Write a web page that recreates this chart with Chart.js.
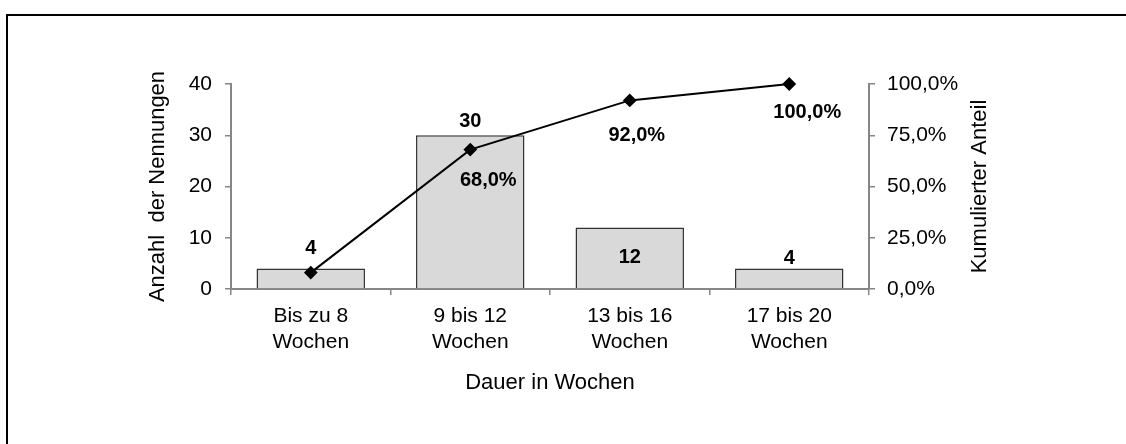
<!DOCTYPE html>
<html>
<head>
<meta charset="utf-8">
<script src="https://cdn.jsdelivr.net/npm/chart.js@4/dist/chart.umd.min.js"></script>
<style>
  html, body { margin: 0; padding: 0; background: #fff; }
  #wrap { width: 1126px; height: 444px; }
</style>
</head>
<body>
<div id="wrap"><canvas id="paretoChart" width="1126" height="444"></canvas></div>
<script>
// Data
const categories = [
  ['Bis zu 8', 'Wochen'],
  ['9 bis 12', 'Wochen'],
  ['13 bis 16', 'Wochen'],
  ['17 bis 20', 'Wochen'],
];
const counts = [4, 30, 12, 4];
const cumulative = [0.08, 0.68, 0.92, 1.0];
const countTicks = [0, 10, 20, 30, 40];
const shareTicks = [0, 0.25, 0.5, 0.75, 1];

// label placement (pixels relative to bar top / point)
const barLabelOffset = [-20, -14, 'inside', -10];
const lineLabelOffset = [null, [18, 31], [7, 35], [18, 28]];

const FONT = "'Liberation Sans', Arial, sans-serif";
const AXIS_GRAY = '#868686';

Chart.defaults.font.family = FONT;
Chart.defaults.font.size = 21;
Chart.defaults.color = '#000';

function fmtPercent(v) {
  return (v * 100).toFixed(1).replace('.', ',') + '%';
}

// Frame around the chart (only top and left edge visible)
const framePlugin = {
  id: 'frame',
  beforeDraw(chart) {
    const ctx = chart.ctx;
    ctx.save();
    ctx.fillStyle = '#000';
    ctx.fillRect(6, 14, chart.width - 6, 2);
    ctx.fillRect(6, 14, 2, chart.height - 14);
    ctx.restore();
  },
};

// Right axis title reads bottom-to-top, so draw it here
const rightTitlePlugin = {
  id: 'rightTitle',
  afterDraw(chart) {
    const ctx = chart.ctx;
    const area = chart.chartArea;
    ctx.save();
    ctx.translate(980, (area.top + area.bottom) / 2);
    ctx.rotate(-Math.PI / 2);
    ctx.font = '22px ' + FONT;
    ctx.fillStyle = '#000';
    ctx.textAlign = 'center';
    ctx.textBaseline = 'middle';
    ctx.fillText('Kumulierter Anteil', 0, 0);
    ctx.restore();
  },
};

// Value labels on bars and line points
const valueLabelPlugin = {
  id: 'valueLabels',
  afterDatasetsDraw(chart) {
    const ctx = chart.ctx;
    ctx.save();
    ctx.font = 'bold 20px ' + FONT;
    ctx.fillStyle = '#000';
    ctx.textAlign = 'center';
    ctx.textBaseline = 'middle';

    const bars = chart.getDatasetMeta(0).data;
    bars.forEach((bar, i) => {
      const off = barLabelOffset[i];
      let y;
      if (off === 'inside') {
        y = (bar.y + bar.base) / 2;
      } else {
        y = bar.y + off;
      }
      ctx.fillText(String(counts[i]), bar.x, y);
    });

    const points = chart.getDatasetMeta(1).data;
    points.forEach((pt, i) => {
      const off = lineLabelOffset[i];
      if (!off) return;
      ctx.fillText(fmtPercent(cumulative[i]), pt.x + off[0], pt.y + off[1]);
    });
    ctx.restore();
  },
};

const ctx = document.getElementById('paretoChart').getContext('2d');
new Chart(ctx, {
  type: 'bar',
  data: {
    labels: categories,
    datasets: [
      {
        type: 'bar',
        label: 'Anzahl der Nennungen',
        data: counts,
        backgroundColor: '#d9d9d9',
        borderColor: '#333333',
        borderWidth: 1.5,
        barPercentage: 0.68,
        categoryPercentage: 1,
        yAxisID: 'y',
        order: 2,
      },
      {
        type: 'line',
        label: 'Kumulierter Anteil',
        data: cumulative,
        borderColor: '#000',
        borderWidth: 2,
        tension: 0,
        clip: false,
        pointStyle: 'rectRot',
        pointRadius: 5.5,
        pointBackgroundColor: '#000',
        pointBorderColor: '#000',
        yAxisID: 'y1',
        order: 1,
      },
    ],
  },
  options: {
    responsive: false,
    animation: false,
    layout: {
      padding: { left: 140, right: 157, top: 84, bottom: 40 },
    },
    plugins: {
      legend: { display: false },
      tooltip: { enabled: false },
    },
    scales: {
      x: {
        offset: true,
        grid: {
          offset: true,
          drawOnChartArea: false,
          drawTicks: true,
          tickLength: 6,
          color: AXIS_GRAY,
          lineWidth: 1.5,
        },
        border: { color: AXIS_GRAY, width: 2 },
        ticks: {
          color: '#000',
          font: { size: 21, lineHeight: 1.2 },
          padding: 9,
          maxRotation: 0,
          autoSkip: false,
        },
        title: {
          display: true,
          text: 'Dauer in Wochen',
          color: '#000',
          font: { size: 22 },
          padding: { top: 0, bottom: 8 },
        },
        afterFit: (scale) => { scale.height = 115; },
      },
      y: {
        position: 'left',
        min: 0,
        max: 40,
        afterBuildTicks: (scale) => {
          scale.ticks = countTicks.map((v) => ({ value: v }));
        },
        grid: {
          drawOnChartArea: false,
          tickLength: 6,
          color: AXIS_GRAY,
          lineWidth: 1.5,
        },
        border: { color: AXIS_GRAY, width: 2 },
        ticks: { color: '#000', font: { size: 21 }, padding: 13 },
        title: {
          display: true,
          text: 'Anzahl  der Nennungen',
          color: '#000',
          font: { size: 22 },
          padding: { top: 5, bottom: 0 },
        },
        afterFit: (scale) => { scale.width = 91; },
      },
      y1: {
        position: 'right',
        min: 0,
        max: 1,
        afterBuildTicks: (scale) => {
          scale.ticks = shareTicks.map((v) => ({ value: v }));
        },
        grid: {
          drawOnChartArea: false,
          tickLength: 6,
          color: AXIS_GRAY,
          lineWidth: 1.5,
        },
        border: { color: AXIS_GRAY, width: 2 },
        ticks: {
          color: '#000',
          font: { size: 21 },
          padding: 12,
          callback: (v) => fmtPercent(v),
        },
        afterFit: (scale) => { scale.width = 100; },
      },
    },
  },
  plugins: [framePlugin, rightTitlePlugin, valueLabelPlugin],
});
</script>
</body>
</html>
